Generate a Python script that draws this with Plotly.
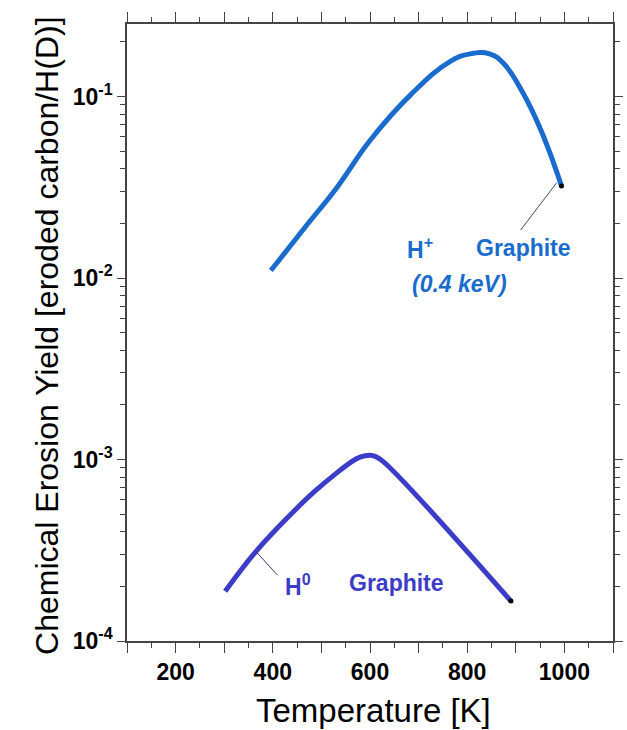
import plotly.graph_objects as go

# H+ (0.4 keV) on graphite
hp_T = [396, 466, 532, 600, 686, 766, 806, 846, 876, 912, 952, 994]
hp_Y = [0.0110, 0.0190, 0.0316, 0.0573, 0.1038, 0.157, 0.172, 0.172, 0.151, 0.108, 0.065, 0.0322]

# H0 on graphite
h0_T = [302, 366, 486, 572, 590, 606, 626, 890]
h0_Y = [1.88e-4, 3.13e-4, 6.67e-4, 1.01e-3, 1.05e-3, 1.05e-3, 9.8e-4, 1.66e-4]

x_tickvals = [100, 200, 300, 400, 500, 600, 700, 800, 900, 1000, 1100]
x_ticktext = ["", "200", "", "400", "", "600", "", "800", "", "1000", ""]
y_tickvals = [1e-4, 1e-3, 1e-2, 1e-1]
y_ticktext = ["10<sup>-4</sup>", "10<sup>-3</sup>", "10<sup>-2</sup>", "10<sup>-1</sup>"]

C_HP = "#1a6ccc"
C_H0 = "#3c3cc8"
font = "Liberation Sans, Arial, sans-serif"

fig = go.Figure()
fig.add_trace(go.Scatter(x=hp_T, y=hp_Y, mode="lines",
                         line=dict(color=C_HP, width=5, shape="spline", smoothing=1.2), showlegend=False))
fig.add_trace(go.Scatter(x=h0_T, y=h0_Y, mode="lines",
                         line=dict(color=C_H0, width=5, shape="spline", smoothing=0.9), showlegend=False))
# leader lines
fig.add_trace(go.Scatter(x=[910, 984], y=[0.0184, 0.0335], mode="lines",
                         line=dict(color="#3a4a70", width=1), showlegend=False))
fig.add_trace(go.Scatter(x=[366, 410], y=[3.1e-4, 2.3e-4], mode="lines",
                         line=dict(color="#3a3a80", width=1), showlegend=False))
fig.add_trace(go.Scatter(x=[hp_T[-1], h0_T[-1]], y=[hp_Y[-1], h0_Y[-1]], mode="markers",
                         marker=dict(color="black", size=5), showlegend=False))

ann = [
    (702, -1.835, "H<sup>+</sup>", C_HP),
    (916, -1.835, "Graphite", C_HP),
    (784, -2.03, "<i>(0.4 keV)</i>", C_HP),
    (452, -3.69, "H<sup>0</sup>", C_H0),
    (654, -3.68, "Graphite", C_H0),
]
for x, y, t, c in ann:
    fig.add_annotation(x=x, y=y, xref="x", yref="y", text="<b>" + t + "</b>",
                       showarrow=False, font=dict(family=font, size=23, color=c))

# axis titles
fig.add_annotation(x=(45 - 127) / 498, y=(641 - 335) / 617, xref="paper", yref="paper",
                   text="Chemical Erosion Yield [eroded carbon/H(D)]", textangle=-90, showarrow=False,
                   xanchor="center", yanchor="middle", font=dict(family=font, size=32, color="black"))
fig.add_annotation(x=(380 - 127) / 498, y=(641 - 710) / 617, xref="paper", yref="paper",
                   text="Temperature [K]", showarrow=False,
                   xanchor="center", yanchor="middle", font=dict(family=font, size=33, color="black"))

fig.update_xaxes(range=[100, 1100], tickmode="array", tickvals=x_tickvals, ticktext=x_ticktext,
                 ticks="outside", ticklen=10, tickwidth=1.2, tickcolor="#444",
                 minor=dict(tick0=100, dtick=50, ticks="outside", ticklen=5, tickcolor="#444", showgrid=False),
                 showline=True, linecolor="#444", linewidth=1.5, mirror="ticks", showgrid=False, zeroline=False,
                 tickfont=dict(family=font, size=23, color="black", weight="bold"))
fig.update_yaxes(type="log", range=[-4, -0.6], tickmode="array", tickvals=y_tickvals, ticktext=y_ticktext,
                 ticks="outside", ticklen=8, tickwidth=1.2, tickcolor="#444",
                 minor=dict(dtick="D1", ticks="outside", ticklen=5, tickcolor="#444", showgrid=False),
                 showline=True, linecolor="#444", linewidth=1.5, mirror="ticks", showgrid=False, zeroline=False,
                 tickfont=dict(family=font, size=23, color="black", weight="bold"))

fig.update_layout(width=627, height=730, margin=dict(l=127, r=4, t=24, b=89),
                  plot_bgcolor="white", paper_bgcolor="white")
fig.write_html("out.html")
